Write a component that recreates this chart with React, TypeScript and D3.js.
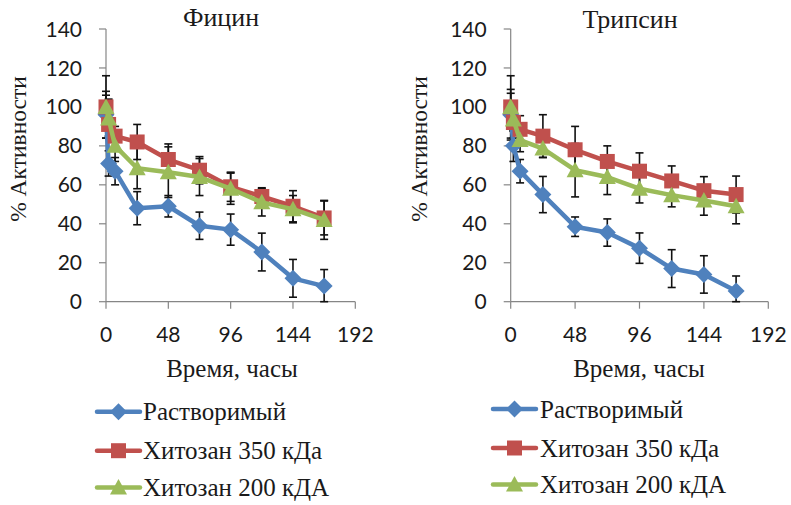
import React from 'react';
import * as d3 from 'd3';

const hours = [0, 2, 7, 24, 48, 72, 96, 120, 144, 168];
const xTicks = [0, 48, 96, 144, 192];
const yTicks = [0, 20, 40, 60, 80, 100, 120, 140];
const seriesNames = ['Растворимый', 'Хитозан 350 кДа', 'Хитозан 200 кДА'];
const seriesColors = ['#4F81BD', '#C0504D', '#9BBB59'];
const panelTitles = ['Фицин', 'Трипсин'];
const xTitle = 'Время, часы';
const yTitle = '% Активности';

// Фицин
const ficinSoluble = [96, 71, 67, 48, 49, 39, 37, 25.5, 12, 8];
const ficinSolubleErr = [12, 6.5, 7, 8.5, 5.5, 7, 8, 9.7, 9.7, 8.5];
const ficinChit350 = [100, 91, 85, 82, 73, 67.5, 59, 54, 49, 43];
const ficinChit350Err = [16, 6, 5, 9, 8, 7, 7.5, 4.5, 8, 8.7];
const ficinChit200 = [100, 94, 80, 68.5, 66.5, 64, 58, 51, 47.5, 42];
const ficinChit200Err = [6, 10, 8, 10.5, 13, 9.5, 8, 7, 7, 10];

// Трипсин
const trypsinSoluble = [96, 80, 67, 55, 38.5, 35.5, 27.5, 17, 14, 5.5];
const trypsinSolubleErr = [13, 8, 6, 9.3, 5, 7, 7.8, 9.7, 9.6, 7.7];
const trypsinChit350 = [100, 92, 88.5, 85, 78, 72, 67, 62, 57, 55];
const trypsinChit350Err = [16, 8, 7, 11, 12, 8, 9.4, 7.7, 7.2, 9.5];
const trypsinChit200 = [100, 93.5, 83, 78.6, 67.5, 64, 58, 54.7, 52, 49];
const trypsinChit200Err = [7, 6, 6, 4.5, 13.7, 9, 7.3, 6, 7.6, 9];

const panelValues = [
  [ficinSoluble, ficinChit350, ficinChit200],
  [trypsinSoluble, trypsinChit350, trypsinChit200],
];
const panelErrors = [
  [ficinSolubleErr, ficinChit350Err, ficinChit200Err],
  [trypsinSolubleErr, trypsinChit350Err, trypsinChit200Err],
];

const layouts = [
  { x0: 106, x1: 355.3, yTitleX: 17.5, titleX: 221, titleY: 26, xTitleX: 232, legendLineX: 97, legendTextX: 143, legendY: [411.7, 450.7, 487.5] },
  { x0: 510.7, x1: 768.3, yTitleX: 418.5, titleX: 630, titleY: 28, xTitleX: 639, legendLineX: 493, legendTextX: 540, legendY: [409, 448, 484.5] },
];
const yTop = 29;
const yBottom = 301.7;

const axisColor = '#868686';
const tickStyle = { fontFamily: 'Lato, sans-serif', fontSize: '21px' };
const serifFamily = 'Liberation Serif, Times New Roman, DejaVu Serif, serif';
const legendStyle = { fontFamily: serifFamily, fontSize: '25px' };
const xTitleStyle = { fontFamily: serifFamily, fontSize: '25px' };
const titleStyle = { fontFamily: serifFamily, fontSize: '26px' };
const yTitleStyle = { fontFamily: serifFamily, fontSize: '23.5px' };

function markerPath(kind: number): string {
  if (kind === 0) return 'M0,-8.5L8.5,0L0,8.5L-8.5,0Z';
  if (kind === 1) return 'M-7.5,-7.5H7.5V7.5H-7.5Z';
  return 'M0,-8.5L8.5,7L-8.5,7Z';
}

function Panel({ idx }: { idx: number }) {
  const L = layouts[idx];
  const x = d3.scaleLinear().domain([0, 192]).range([L.x0, L.x1]);
  const y = d3.scaleLinear().domain([0, 140]).range([yBottom, yTop]);
  const vals = panelValues[idx];
  const errs = panelErrors[idx];
  const line = d3
    .line<number>()
    .x((_, i) => x(hours[i]))
    .y((d) => y(d));
  return (
    <g>
      <text x={L.titleX} y={L.titleY} textAnchor="middle" style={titleStyle} fill="#1a1a1a">
        {panelTitles[idx]}
      </text>
      <line x1={L.x0} x2={L.x0} y1={yTop} y2={yBottom} stroke={axisColor} strokeWidth={1.2} />
      <line x1={L.x0} x2={L.x1} y1={yBottom} y2={yBottom} stroke={axisColor} strokeWidth={1.2} />
      {yTicks.map((t) => (
        <g key={'y' + t}>
          <line x1={L.x0 - 7} x2={L.x0} y1={y(t)} y2={y(t)} stroke={axisColor} strokeWidth={1.2} />
          <text x={L.x0 - 24} y={y(t)} dy="0.36em" textAnchor="end" style={tickStyle} fill="#1a1a1a">
            {t}
          </text>
        </g>
      ))}
      {xTicks.map((t) => (
        <g key={'x' + t}>
          <line x1={x(t)} x2={x(t)} y1={yBottom} y2={yBottom + 7} stroke={axisColor} strokeWidth={1.2} />
          <text x={x(t)} y={341.7} textAnchor="middle" style={tickStyle} fill="#1a1a1a">
            {t}
          </text>
        </g>
      ))}
      <text x={L.xTitleX} y={377} textAnchor="middle" style={xTitleStyle} fill="#1a1a1a">
        {xTitle}
      </text>
      <text
        transform={`translate(${L.yTitleX},149) rotate(-90)`}
        textAnchor="middle"
        dy="0.35em"
        style={yTitleStyle}
        fill="#1a1a1a"
      >
        {yTitle}
      </text>
      {vals.map((s, si) =>
        s.map((v, i) => {
          const e = errs[si][i];
          const cx = x(hours[i]);
          const lo = Math.max(0, v - e);
          return (
            <g key={`e${si}-${i}`} stroke="#111" strokeWidth={1.6}>
              <line x1={cx} x2={cx} y1={y(v + e)} y2={y(lo)} />
              <line x1={cx - 4} x2={cx + 4} y1={y(v + e)} y2={y(v + e)} />
              <line x1={cx - 4} x2={cx + 4} y1={y(lo)} y2={y(lo)} />
            </g>
          );
        })
      )}
      {vals.map((s, si) => (
        <g key={'s' + si}>
          <path d={line(s) || ''} fill="none" stroke={seriesColors[si]} strokeWidth={4.5} strokeLinejoin="round" />
          {s.map((v, i) => (
            <path key={i} d={markerPath(si)} transform={`translate(${x(hours[i])},${y(v)})`} fill={seriesColors[si]} />
          ))}
        </g>
      ))}
      {seriesNames.map((n, si) => (
        <g key={'l' + si}>
          <line
            x1={L.legendLineX}
            x2={L.legendLineX + 43}
            y1={L.legendY[si]}
            y2={L.legendY[si]}
            stroke={seriesColors[si]}
            strokeWidth={4.5}
            strokeLinecap="round"
          />
          <path d={markerPath(si)} transform={`translate(${L.legendLineX + 21.5},${L.legendY[si]})`} fill={seriesColors[si]} />
          <text x={L.legendTextX} y={L.legendY[si] + 8.7} style={legendStyle} fill="#1a1a1a">
            {n}
          </text>
        </g>
      ))}
    </g>
  );
}

export default function App() {
  return (
    <svg width={791} height={505} style={{ position: 'absolute', left: 0, top: 0, background: '#fff' }}>
      <rect width={791} height={505} fill="#fff" />
      <Panel idx={0} />
      <Panel idx={1} />
    </svg>
  );
}
